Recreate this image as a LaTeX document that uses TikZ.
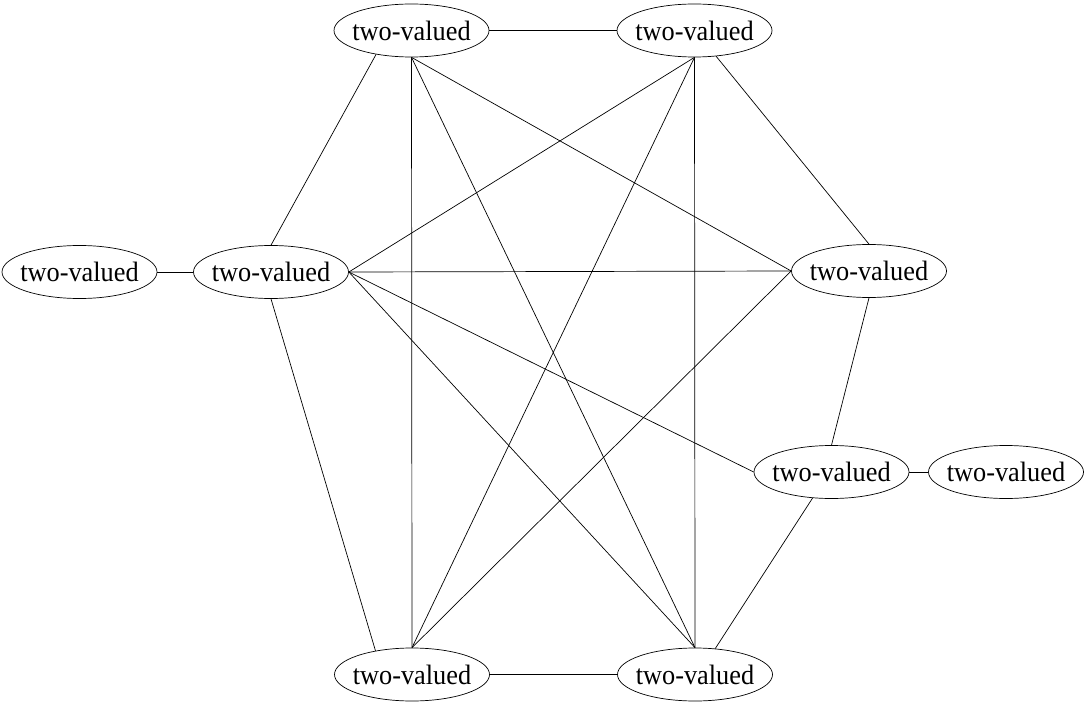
\documentclass[tikz,border=0pt]{standalone}
\usepackage{fontspec}
\usepackage{graphicx}
\setmainfont{Liberation Serif}
\usetikzlibrary{shapes.geometric}
\tikzset{
  tv/.style={ellipse, draw, line width=0.7pt, minimum width=155pt, minimum height=53pt, inner sep=0pt,
    font=\fontsize{28}{32}\selectfont},
  edge/.style={line width=0.7pt}
}
\newcommand{\tvtext}{\makebox[0pt]{\raisebox{-1.5pt}{\scalebox{0.94}[1]{two-valued}}}}
\begin{document}
\begin{tikzpicture}[x=1pt,y=-1pt]
\useasboundingbox (0,0) rectangle (1089,703);
\node[tv] (T1) at (411.5,30.5) {\tvtext};
\node[tv] (T2) at (694.5,30.5) {\tvtext};
\node[tv] (LL) at (79.5,272) {\tvtext};
\node[tv] (L)  at (271,272) {\tvtext};
\node[tv] (R)  at (869,271) {\tvtext};
\node[tv] (RB) at (831.5,472) {\tvtext};
\node[tv] (RR) at (1006,472) {\tvtext};
\node[tv] (B1) at (412,674.5) {\tvtext};
\node[tv] (B2) at (695,674.5) {\tvtext};
\begin{scope}[edge]
\draw (T1.east) -- (T2.west);
\draw (T1.-146) -- (L.north);
\draw (T1.south) -- (B1.north);
\draw (T1.south) -- (B2.north);
\draw (T1.south) -- (R.west);
\draw (T2.south) -- (L.east);
\draw (T2.south) -- (B1.north);
\draw (T2.south) -- (B2.north);
\draw (T2.-50) -- (R.north);
\draw (L.west) -- (LL.east);
\draw (L.east) -- (R.west);
\draw (L.east) -- (RB.west);
\draw (L.south) -- (B1.147);
\draw (L.east) -- (B2.north);
\draw (R.west) -- (B1.north);
\draw (R.south) -- (RB.north);
\draw (RB.east) -- (RR.west);
\draw (RB.-126) -- (B2.52);
\draw (B1.east) -- (B2.west);
\end{scope}
\end{tikzpicture}
\end{document}
